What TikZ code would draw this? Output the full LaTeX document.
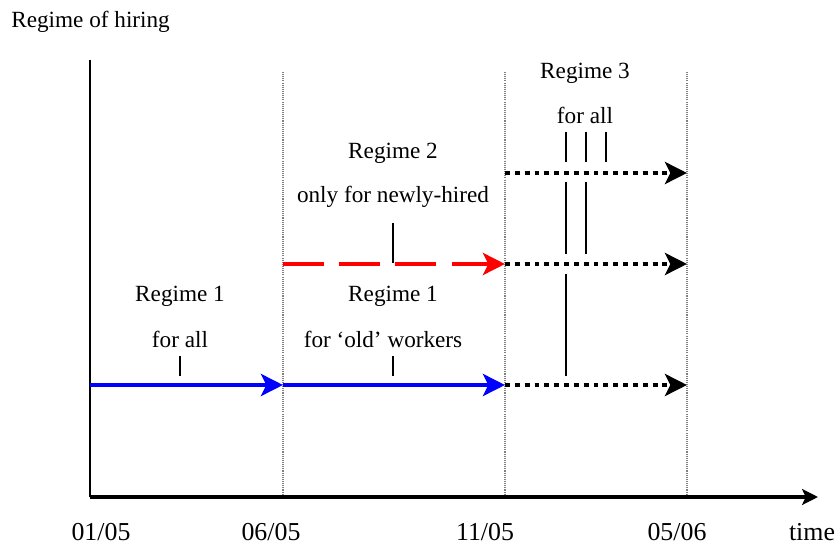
\documentclass[tikz,border=0pt]{standalone}
\usepackage{fontspec}
\setmainfont{Liberation Serif}
\usepackage{tikz}
\usetikzlibrary{arrows.meta}

\begin{document}
\begin{tikzpicture}[x=0.02cm, y=-0.02cm,
	axis/.style={line width=2.4pt, -{Stealth[length=9pt, width=9pt, inset=2pt]}},
	gridline/.style={gray, line width=0.6pt, dash pattern=on 0.6pt off 0.6pt},
	oldrule/.style={blue, line width=2.8pt, -{Stealth[length=12.5pt, width=12.5pt, inset=3pt]}},
	newrule/.style={red, line width=2.8pt, dash pattern=on 23.2pt off 8.8pt, -{Stealth[length=12.5pt, width=12.5pt, inset=3pt]}},
	allrule/.style={black, line width=2.8pt, dash pattern=on 2.8pt off 2.8pt, -{Stealth[length=12.5pt, width=12.5pt, inset=3pt]}},
	pointer/.style={line width=0.8pt},
	txt/.style={font=\fontsize{13.2}{15}\selectfont, inner sep=0pt},
	datetxt/.style={font=\fontsize{14.7}{17}\selectfont, inner sep=0pt}]
	\useasboundingbox (0,0) rectangle (840,544);
	% Define axes and time points
	\coordinate (origin) at (90,497);
	\coordinate (ytop) at (90,60);
	\coordinate (xend) at (818,497);
	\coordinate (a0) at (90,385);
	\coordinate (a1) at (283,385);
	\coordinate (a2) at (505,385);
	\coordinate (a3) at (687,385);
	\coordinate (b1) at (283,264);
	\coordinate (b2) at (505,264);
	\coordinate (b3) at (687,264);
	\coordinate (c2) at (505,173);
	\coordinate (c3) at (687,173);
	
	\foreach \x in {283,505,687}
		\draw[gridline] (\x,72) -- (\x,497);
	\draw[line width=0.8pt] (ytop) -- (origin);
	\draw[axis] (origin) -- (xend);
	
	% Labels
	\node[txt, anchor=west] at (11,22) (ylabel) {Regime of hiring};
	\node[datetxt] at (101,532) (d0) {01/05};
	\node[datetxt] at (271,532) (d1) {06/05};
	\node[datetxt] at (485,532) (d2) {11/05};
	\node[datetxt] at (677,532) (d3) {05/06};
	\node[datetxt] at (812,532) (xlabel) {time};
	
	\node[txt] at (180,296) (r1name) {Regime 1};
	\node[txt] at (180,339) (r1who) {for all};
	\node[txt] at (393,296) (r1bname) {Regime 1};
	\node[txt] at (383,339) (r1bwho) {for `old' workers};
	\node[txt] at (393,153) (r2name) {Regime 2};
	\node[txt] at (393,197) (r2who) {only for newly-hired};
	\node[txt] at (585,73) (r3name) {Regime 3};
	\node[txt] at (585,115) (r3who) {for all};
	
	% Draw the regimes
	\draw[oldrule] (a0) -- (a1);
	\draw[oldrule] (a1) -- (a2);
	\draw[newrule] (b1) -- (b2);
	\draw[allrule] (a2) -- (a3);
	\draw[allrule] (b2) -- (b3);
	\draw[allrule] (c2) -- (c3);
	
	% Pointers from labels
	\draw[pointer] (180,356) -- (180,376);
	\draw[pointer] (393,356) -- (393,376);
	\draw[pointer] (393,223) -- (393,263);
	\foreach \x in {566,586,606}
		\draw[pointer] (\x,132) -- (\x,162);
	\foreach \x in {566,586}
		\draw[pointer] (\x,182) -- (\x,254);
	\draw[pointer] (566,274) -- (566,376);
\end{tikzpicture}
\end{document}
